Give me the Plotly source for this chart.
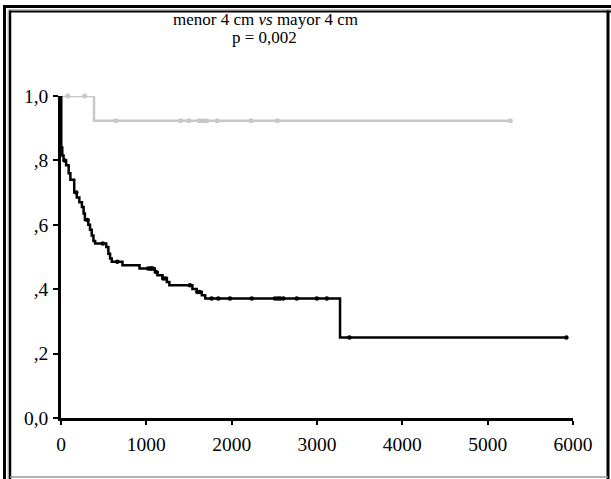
import numpy as np
import plotly.graph_objects as go

# ---------------- data ----------------
x_tick_vals = [0, 1000, 2000, 3000, 4000, 5000, 6000]
x_tick_text = ["0", "1000", "2000", "3000", "4000", "5000", "6000"]
y_tick_vals = [0.0, 0.2, 0.4, 0.6, 0.8, 1.0]
y_tick_text = ["0,0", ",2", ",4", ",6", ",8", "1,0"]

# tumour < 4 cm (grey)
small_times = [0, 387]
small_surv = [1.0, 0.923]
small_end = 5266
small_cens = [79, 278, 642, 1401, 1499, 1620, 1667, 1706, 1831, 2226, 2535, 5266]

# tumour > 4 cm (black)
large_times = [0, 3, 15, 30, 60, 90, 110, 155, 185, 215, 245, 265, 280, 320, 340,
               360, 380, 400, 530, 555, 575, 595, 720, 920, 1100, 1130, 1190, 1240,
               1270, 1540, 1590, 1650, 1690, 3270]
large_surv = [1.0, 0.84, 0.815, 0.80, 0.785, 0.76, 0.74, 0.70, 0.685, 0.67, 0.655,
              0.635, 0.615, 0.60, 0.585, 0.567, 0.55, 0.542, 0.531, 0.51, 0.495,
              0.485, 0.474, 0.464, 0.453, 0.443, 0.433, 0.422, 0.412, 0.401, 0.391,
              0.381, 0.371, 0.25]
large_end = 5923
large_cens = [44, 180, 310, 490, 660, 1020, 1045, 1060, 1075, 1120, 1200, 1230,
              1510, 1600, 1625, 1765, 1843, 1980, 2235, 2508, 2540, 2567, 2606,
              2763, 2997, 3115, 3380, 5923]

title_line1 = "menor 4 cm <i>vs</i> mayor 4 cm"
title_line2 = "p = 0,002"

# ---------------- layout constants ----------------
W, H = 611, 479
ML, MR, MT, MB = 61, 38, 96, 61
PW, PH = W - ML - MR, H - MT - MB
FONT = "Liberation Serif, Times New Roman, serif"


def step_xy(times, surv, end):
    return list(times) + [end], list(surv) + [surv[-1]]


def cens_y(times, surv, cens):
    t = np.asarray(times)
    s = np.asarray(surv)
    idx = np.searchsorted(t, np.asarray(cens), side="right") - 1
    return s[idx]


def px(x, y):
    return (x - ML) / PW, (H - MB - y) / PH


fig = go.Figure()

grey = "#c8c8c8"
sx, sy = step_xy(small_times, small_surv, small_end)
fig.add_trace(go.Scatter(x=sx, y=sy, mode="lines", line=dict(color=grey, width=2.5, shape="hv"),
                         cliponaxis=False, showlegend=False, hoverinfo="skip"))
fig.add_trace(go.Scatter(x=small_cens, y=cens_y(small_times, small_surv, small_cens), mode="markers",
                         marker=dict(color=grey, size=5, symbol="circle"), cliponaxis=False,
                         showlegend=False))

lx, ly = step_xy(large_times, large_surv, large_end)
fig.add_trace(go.Scatter(x=lx, y=ly, mode="lines", line=dict(color="black", width=2.5, shape="hv"),
                         cliponaxis=False, showlegend=False, hoverinfo="skip"))
fig.add_trace(go.Scatter(x=large_cens, y=cens_y(large_times, large_surv, large_cens), mode="markers",
                         marker=dict(color="black", size=4.5, symbol="circle"), cliponaxis=False,
                         showlegend=False))

axis_common = dict(showline=True, linecolor="black", linewidth=2.5, ticks="outside",
                   tickcolor="black", tickwidth=2, showgrid=False, zeroline=False,
                   tickfont=dict(family=FONT, size=19.5, color="black"))

fig.update_xaxes(range=[0, 6000], tickvals=x_tick_vals, ticktext=x_tick_text, ticklen=4,
                 ticklabelstandoff=3, **axis_common)
fig.update_yaxes(range=[0, 1.0], tickvals=y_tick_vals, ticktext=y_tick_text, ticklen=5,
                 ticklabelstandoff=1, **axis_common)

# title as two annotations
ax1, ay1 = px(265, 19)
ax2, ay2 = px(264, 37.5)
fig.add_annotation(x=ax1, y=ay1, xref="paper", yref="paper", text=title_line1, showarrow=False,
                   xanchor="center", yanchor="middle", font=dict(family=FONT, size=17, color="black"))
fig.add_annotation(x=ax2, y=ay2, xref="paper", yref="paper", text=title_line2, showarrow=False,
                   xanchor="center", yanchor="middle", font=dict(family=FONT, size=17, color="black"))

# frame (decoration)
def hline(x0, x1, y, w, c):
    a = px(x0, y); b = px(x1, y)
    fig.add_shape(type="line", xref="paper", yref="paper", x0=a[0], y0=a[1], x1=b[0], y1=b[1],
                  line=dict(color=c, width=w))

def vline(x, y0, y1, w, c):
    a = px(x, y0); b = px(x, y1)
    fig.add_shape(type="line", xref="paper", yref="paper", x0=a[0], y0=a[1], x1=b[0], y1=b[1],
                  line=dict(color=c, width=w))

hline(3, 612, 6.5, 3, "black")
vline(4.5, 5, 480, 3, "black")
hline(8, 612, 9.5, 1, "#bbbbbb")
vline(8, 9, 480, 1, "#bbbbbb")
hline(9.5, 612, 11.5, 2, "black")
vline(10, 10.5, 480, 2.5, "black")
vline(608, 10.5, 480, 3, "black")
hline(10, 608, 477, 1.5, "#999999")

fig.update_layout(width=W, height=H, margin=dict(l=ML, r=MR, t=MT, b=MB, pad=0),
                  plot_bgcolor="white", paper_bgcolor="white", showlegend=False)

fig.write_html("out.html", config={"displayModeBar": False},
               post_script="document.body.style.margin='0';document.body.style.overflow='hidden';")
